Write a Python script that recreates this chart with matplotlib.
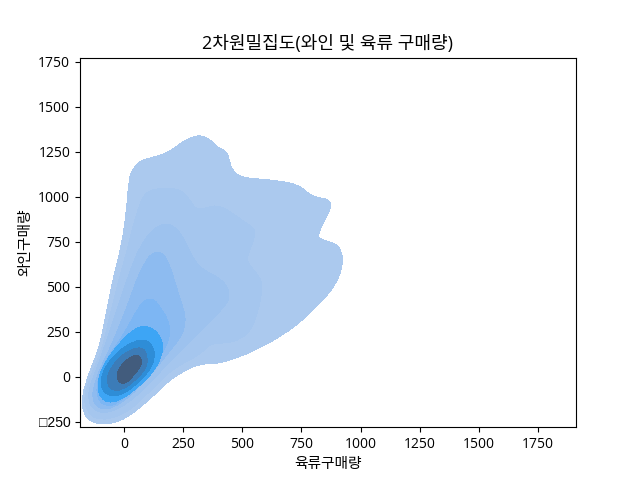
import matplotlib
matplotlib.use('Agg')
import matplotlib.pyplot as plt
from matplotlib.path import Path
from matplotlib.patches import PathPatch

plt.rcParams['font.family'] = ['Open Sans', 'Noto Sans CJK KR', 'DejaVu Sans']

# density contour outlines (meat, wine), outermost first
band1_x = [-178, -167, -131, -103, -75, -47, -11, 10, 20, 38, 73, 123, 186, 236, 285, 328, 363, 398, 433, 445, 455, 490, 561, 645, 737, 794, 864, 878, 850, 818, 829, 899, 921, 925, 899, 843, 758, 674, 561, 476, 391, 321, 250, 186, 130, 73, 10, -47, -96, -145, -171]
band1_y = [-135, -52, 78, 170, 356, 541, 726, 911, 1096, 1161, 1204, 1220, 1245, 1296, 1333, 1343, 1319, 1272, 1254, 1207, 1152, 1111, 1100, 1091, 1069, 1000, 989, 948, 874, 791, 763, 741, 689, 624, 522, 430, 319, 235, 152, 106, 72, 74, 31, -24, -98, -163, -228, -256, -263, -246, -200]
band2_x = [-167, -152, -117, -89, -61, -25, 10, 38, 59, 80, 109, 165, 222, 257, 281, 304, 335, 391, 448, 504, 551, 554, 532, 518, 539, 582, 582, 568, 539, 490, 433, 363, 321, 250, 186, 130, 73, 17, -47, -96, -138, -164]
band2_y = [-107, -33, 78, 170, 337, 522, 689, 837, 930, 1004, 1037, 1050, 1046, 1019, 976, 933, 933, 957, 920, 865, 828, 782, 707, 652, 606, 541, 467, 374, 263, 207, 189, 185, 124, 78, 22, -52, -126, -191, -228, -237, -219, -163]
band3_x = [-152, -145, -117, -82, -54, -25, 3, 38, 66, 102, 137, 172, 208, 243, 271, 299, 342, 405, 441, 445, 426, 377, 328, 285, 236, 186, 130, 73, 17, -47, -96, -131]
band3_y = [-126, -52, 41, 170, 281, 393, 504, 633, 717, 791, 833, 852, 841, 791, 717, 643, 587, 550, 494, 439, 393, 328, 263, 207, 143, 78, -6, -80, -144, -191, -200, -178]
band4_x = [-134, -128, -103, -68, -32, 3, 31, 59, 92, 116, 144, 165, 186, 208, 229, 250, 259, 256, 243, 186, 130, 73, 17, -47, -89, -117]
band4_y = [-117, -52, 41, 133, 244, 356, 457, 559, 643, 685, 694, 685, 643, 559, 467, 380, 335, 280, 226, 133, 41, -43, -117, -172, -178, -163]
band5_x = [-117, -110, -82, -40, 17, 73, 130, 179, 196, 186, 151, 130, 109, 80, 52, 17, -25, -68, -96]
band5_y = [-52, -126, -159, -159, -98, -24, 69, 170, 244, 319, 393, 426, 435, 420, 365, 281, 189, 115, 41]
band6_x = [82, 135, 165, 160, 120, 62, -10, -64, -100, -112, -104, -72, -20, 30]
band6_y = [288, 260, 192, 115, 20, -54, -126, -145, -115, -60, 15, 100, 186, 254]
band7_x = [90, 126, 130, 100, 48, -18, -66, -95, -98, -72, -28, 30]
band7_y = [212, 166, 96, 20, -48, -105, -105, -66, -4, 72, 138, 192]
band8_x = [76, 100, 95, 40, -18, -58, -74, -63, -28, 15]
band8_y = [170, 118, 48, -30, -78, -68, -20, 33, 97, 145]
band9_x = [56, 75, 72, 42, 7, -21, -31, -15, 21]
band9_y = [124, 103, 62, 10, -38, -32, 12, 62, 108]

bands = [(band1_x, band1_y), (band2_x, band2_y), (band3_x, band3_y),
         (band4_x, band4_y), (band5_x, band5_y), (band6_x, band6_y),
         (band7_x, band7_y), (band8_x, band8_y), (band9_x, band9_y)]
band_colors = ['#ABC9EE', '#A5C6EE', '#9DC2EE', '#8DBBF0', '#7DB6F3',
               '#3DA5F5', '#2E8DD7', '#3C7CB8', '#425C7D']

x_ticks = [0, 250, 500, 750, 1000, 1250, 1500, 1750]
y_ticks = [-250, 0, 250, 500, 750, 1000, 1250, 1500, 1750]
y_labels = ['\u25a1250', '0', '250', '500', '750', '1000', '1250', '1500', '1750']


def smooth_outline(xs, ys):
    # closed quadratic curve through the outline, drawn by the Path itself
    pts = list(zip(xs, ys))
    n = len(pts)
    mids = [((pts[i][0] + pts[(i + 1) % n][0]) / 2, (pts[i][1] + pts[(i + 1) % n][1]) / 2) for i in range(n)]
    verts = [mids[-1]]
    codes = [Path.MOVETO]
    for i in range(n):
        verts += [pts[i], mids[i]]
        codes += [Path.CURVE3, Path.CURVE3]
    return Path(verts, codes)


fig, ax = plt.subplots(figsize=(6.4, 4.8), dpi=100)

for (xs, ys), color in zip(bands, band_colors):
    ax.add_patch(PathPatch(smooth_outline(xs, ys), facecolor=color, edgecolor='none',
                           linewidth=0, antialiased=False))

ax.set_xlim(-186, 1910)
ax.set_ylim(-279, 1774)
ax.set_xticks(x_ticks)
ax.set_yticks(y_ticks)
ax.set_yticklabels(y_labels)
ax.get_yticklabels()[0].set_family(['Liberation Sans', 'DejaVu Sans'])
ax.set_xlabel('육류구매량', fontsize=10.6)
ax.set_ylabel('와인구매량', fontsize=10.6)
ax.yaxis.set_label_coords(-0.093, 0.5)
ax.set_title('2차원밀집도(와인 및 육류 구매량)', fontsize=13)

plt.savefig('out.png', dpi=100)
